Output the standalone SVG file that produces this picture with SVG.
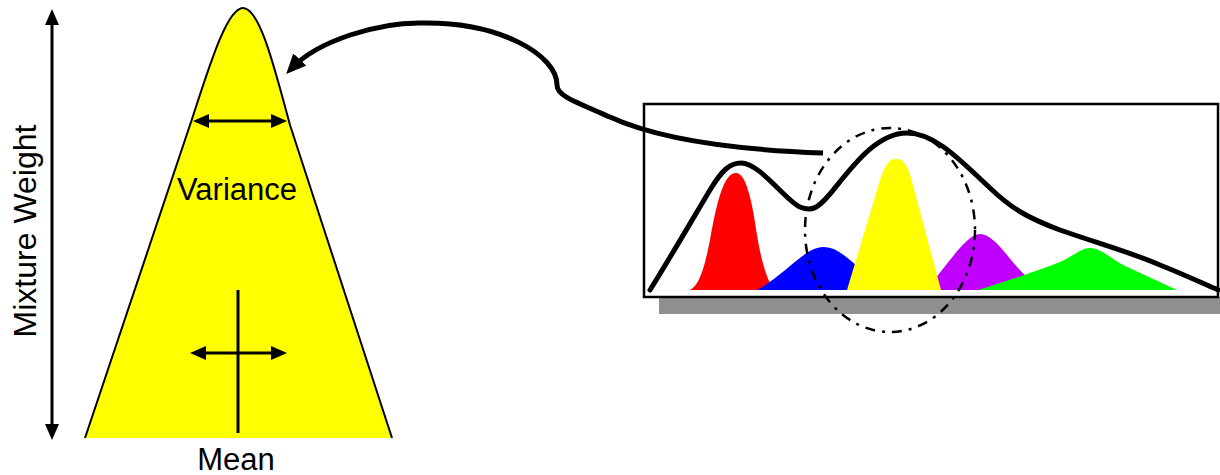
<svg xmlns="http://www.w3.org/2000/svg" width="1220" height="475" viewBox="0 0 1220 475">
<style>
.txt{font-family:"Liberation Sans",Arial,sans-serif;font-size:31px;fill:#000}
.ln{stroke:#000;stroke-width:3;fill:none}
.thick{stroke:#000;stroke-width:5;fill:none;stroke-linecap:round;stroke-linejoin:round}
</style>
<defs>
<marker id="ah" markerUnits="userSpaceOnUse" viewBox="0 0 16 16" markerWidth="16" markerHeight="16" refX="10" refY="8" orient="auto-start-reverse">
<path d="M0,1 L16,8 L0,15 Z" fill="#000"/>
</marker>
<marker id="ahBig" markerUnits="userSpaceOnUse" viewBox="0 0 20 18" markerWidth="20" markerHeight="18" refX="13" refY="9" orient="auto">
<path d="M0,0 L20,9 L0,18 Z" fill="#000"/>
</marker>
</defs>
<rect width="1220" height="475" fill="#fff"/>

<g id="gaussian">
<path d="M85,438 L190,125 C207,74 226,8 243,8 C260,8 275,70 290,125 L392,438 Z" fill="#ffff00"/>
<path d="M85,438 L190,125 C207,74 226,8 243,8 C260,8 275,70 290,125 L392,438" fill="none" stroke="#000" stroke-width="2"/>
</g>

<g id="variance">
<line class="ln" x1="199" y1="121" x2="281" y2="121" marker-start="url(#ah)" marker-end="url(#ah)"/>
<text class="txt" x="237" y="200" text-anchor="middle">Variance</text>
</g>

<g id="mean">
<line class="ln" x1="238" y1="290" x2="238" y2="433"/>
<line class="ln" x1="196" y1="353" x2="281" y2="353" marker-start="url(#ah)" marker-end="url(#ah)"/>
<text class="txt" x="236" y="470" text-anchor="middle">Mean</text>
</g>

<g id="weight">
<line class="ln" x1="52" y1="15" x2="52" y2="434" marker-start="url(#ah)" marker-end="url(#ah)"/>
<text class="txt" style="font-size:32px" transform="translate(36,231) rotate(-90)" text-anchor="middle">Mixture Weight</text>
</g>

<g id="mixture">
<rect x="659" y="297" width="561" height="17" fill="#909090"/>
<rect x="644" y="104" width="574" height="193" fill="#fff" stroke="#000" stroke-width="2.5"/>
<path d="M690,290 C700,285 705,265 710,240 C718,195 725,173 736,173 C746,173 752,200 757,235 C762,265 768,283 775,290 Z" fill="#ff0000"/>
<path d="M757,290 C785,275 805,247 823,247 C840,247 850,262 865,272 C875,280 885,287 893,290 Z" fill="#0000ff"/>
<path d="M925,290 C945,270 965,234 980,234 C995,234 1010,262 1025,275 C1030,280 1035,287 1040,290 Z" fill="#bf00ff"/>
<path d="M978,290 C1010,280 1040,270 1060,262 C1075,255 1082,248 1090,248 C1100,248 1110,258 1125,266 C1145,275 1160,282 1177,290 Z" fill="#00ff00"/>
<path d="M847,290 L880,180 C886,162 890,159 896,159 C902,159 906,162 911,178 L941,290 Z" fill="#ffff00"/>
<path class="thick" d="M650,290 C670,258 695,215 710,190 C722,170 730,163 741,163 C760,163 785,200 800,207 C812,212 818,208 830,194 C850,170 875,133 907,133 C935,133 960,160 990,188 C1010,207 1025,217 1060,230 C1100,244 1130,252 1160,265 C1185,275 1200,282 1218,290"/>
<ellipse cx="890" cy="230" rx="85" ry="102" fill="none" stroke="#000" stroke-width="2.5" stroke-dasharray="10 7 3 7"/>
</g>

<g id="connectors">
<path d="M823,153 C740,150 660,140 610,117 C570,100 557,95 557,85 C557,55 500,22 423,23 C380,22 318,40 291,69" fill="none" stroke="#000" stroke-width="5" marker-end="url(#ahBig)"/>
</g>
</svg>
